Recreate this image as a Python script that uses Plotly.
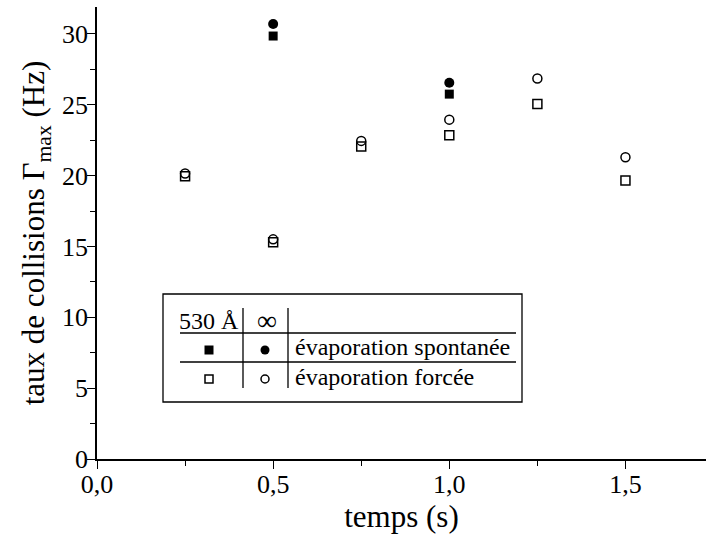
import plotly.graph_objects as go

# data
t_spont = [0.5, 1.0]
sq_spont = [29.85, 25.75]      # 530 A, evaporation spontanee
ci_spont = [30.7, 26.55]       # infini, evaporation spontanee

t_forc = [0.25, 0.5, 0.75, 1.0, 1.25, 1.5]
sq_forc = [19.95, 15.3, 22.05, 22.85, 25.05, 19.65]   # 530 A, forcee
ci_forc = [20.15, 15.5, 22.45, 23.95, 26.85, 21.3]    # infini, forcee

x_ticks = [0.0, 0.5, 1.0, 1.5]
x_labels = ["0,0", "0,5", "1,0", "1,5"]
y_ticks = [0, 5, 10, 15, 20, 25, 30]

FONT = "Liberation Serif, Times New Roman, serif"
W, H = 706, 539
L, R, T, B = 97, 0, 7, 80
PW, PH = W - L - R, H - T - B


def px(x):
    return (x - L) / PW


def py(y):
    return (H - B - y) / PH


def f(size):
    return dict(family=FONT, size=size, color="black")


fig = go.Figure()
fig.add_trace(go.Scatter(x=t_spont, y=sq_spont, mode="markers",
                         marker=dict(symbol="square", size=9, color="black")))
fig.add_trace(go.Scatter(x=t_spont, y=ci_spont, mode="markers",
                         marker=dict(symbol="circle", size=10, color="black")))
fig.add_trace(go.Scatter(x=t_forc, y=sq_forc, mode="markers",
                         marker=dict(symbol="square-open", size=9, color="black",
                                     line=dict(width=1.5))))
fig.add_trace(go.Scatter(x=t_forc, y=ci_forc, mode="markers",
                         marker=dict(symbol="circle-open", size=9, color="black",
                                     line=dict(width=1.5))))

# legend drawn as a little table
shapes = [
    dict(type="rect", xref="paper", yref="paper", x0=px(163), x1=px(522),
         y0=py(402), y1=py(294), line=dict(color="black", width=1.3)),
    dict(type="line", xref="paper", yref="paper", x0=px(243), x1=px(243),
         y0=py(388), y1=py(308), line=dict(color="black", width=1.3)),
    dict(type="line", xref="paper", yref="paper", x0=px(288), x1=px(288),
         y0=py(388), y1=py(308), line=dict(color="black", width=1.3)),
    dict(type="line", xref="paper", yref="paper", x0=px(180), x1=px(516),
         y0=py(333), y1=py(333), line=dict(color="black", width=1.3)),
    dict(type="line", xref="paper", yref="paper", x0=px(180), x1=px(516),
         y0=py(362), y1=py(362), line=dict(color="black", width=1.3)),
    # markers in the legend
    dict(type="rect", xref="paper", yref="paper", x0=px(204.5), x1=px(213.5),
         y0=py(354.5), y1=py(345.5), fillcolor="black", line=dict(width=0)),
    dict(type="circle", xref="paper", yref="paper", x0=px(260.5), x1=px(269.5),
         y0=py(354.5), y1=py(345.5), fillcolor="black", line=dict(width=0)),
    dict(type="rect", xref="paper", yref="paper", x0=px(205), x1=px(213),
         y0=py(383), y1=py(375), line=dict(color="black", width=1.5)),
    dict(type="circle", xref="paper", yref="paper", x0=px(261), x1=px(269),
         y0=py(383), y1=py(375), line=dict(color="black", width=1.5)),
]

annotations = [
    dict(text="530 Å", x=px(209), y=py(321), xref="paper", yref="paper",
         showarrow=False, font=f(24), xanchor="center", yanchor="middle"),
    dict(text="∞", x=px(267), y=py(320), xref="paper", yref="paper",
         showarrow=False, font=f(28), xanchor="center", yanchor="middle"),
    dict(text="évaporation spontanée", x=px(293), y=py(347), xref="paper",
         yref="paper", showarrow=False, font=f(24), xanchor="left",
         yanchor="middle"),
    dict(text="évaporation forcée", x=px(293), y=py(377), xref="paper",
         yref="paper", showarrow=False, font=f(24), xanchor="left",
         yanchor="middle"),
]

fig.update_layout(
    width=W, height=H,
    margin=dict(l=L, r=R, t=T, b=B),
    paper_bgcolor="white", plot_bgcolor="white",
    showlegend=False,
    font=f(24),
    shapes=shapes, annotations=annotations,
    xaxis=dict(range=[0, PW / 352.3], tickvals=x_ticks, ticktext=x_labels,
               showgrid=False, zeroline=False, showline=True, linecolor="black",
               linewidth=1.6, ticks="outside", ticklen=8, tickwidth=1.4,
               tickcolor="black", tickfont=f(26), ticklabelstandoff=-7,
               minor=dict(tickvals=[0.25, 0.75, 1.25], ticks="outside",
                          ticklen=5, tickwidth=1.4, tickcolor="black"),
               title=dict(text="temps (s)", font=f(31), standoff=4)),
    yaxis=dict(range=[0, PH / 14.17], tickvals=y_ticks,
               showgrid=False, zeroline=False, showline=True, linecolor="black",
               linewidth=1.6, ticks="outside", ticklen=8, tickwidth=1.4,
               tickcolor="black", tickfont=f(26), ticklabelstandoff=-6,
               minor=dict(tickvals=[2.5, 7.5, 12.5, 17.5, 22.5, 27.5],
                          ticks="outside", ticklen=5, tickwidth=1.4,
                          tickcolor="black"),
               title=dict(text="taux de collisions Γ<sub>max</sub> (Hz)",
                          font=f(31), standoff=8)),
)

# the page's default body margin would push the figure 8px down and right
fig.write_html("out.html", config={"displayModeBar": False},
               post_script="document.body.style.margin='0';")
